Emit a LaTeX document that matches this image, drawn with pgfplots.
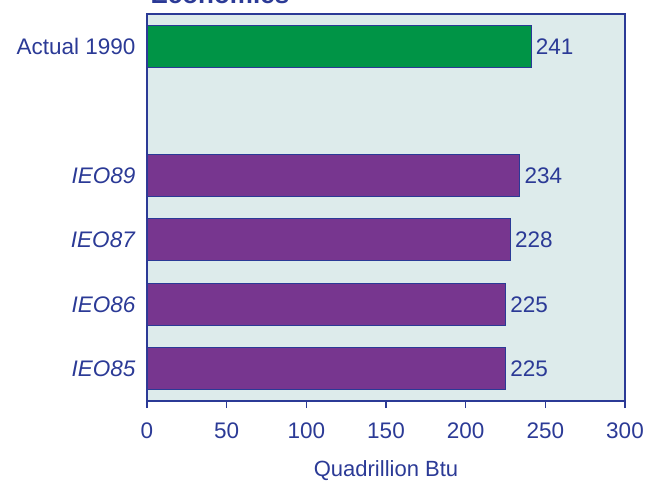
\documentclass[border=0pt]{standalone}
\usepackage{pgfplots}
\pgfplotsset{compat=1.18}
\usepackage{fontspec}
\setmainfont{Liberation Sans}

\definecolor{txtblue}{HTML}{2B3A96}
\definecolor{bggray}{HTML}{DDEBEB}
\definecolor{barGreen}{HTML}{009446}
\definecolor{barPurple}{HTML}{77368F}

\begin{document}
\begin{tikzpicture}
\begin{axis}[
    scale only axis,
    width=478pt, height=387pt,
    xmin=0, xmax=300, ymin=-0.5, ymax=5.5,
    axis background/.style={fill=bggray},
    axis line style={txtblue, line width=1.2pt},
    xbar, bar width=42pt, bar shift=0pt,
    xtick={0,50,...,300},
    xtick pos=bottom, tick align=outside,
    major tick length=7pt,
    tick style={txtblue, line width=1.2pt},
    ytick={0,1,2,3,5},
    yticklabels={\textit{IEO85},\textit{IEO86},\textit{IEO87},\textit{IEO89},Actual 1990},
    ytick style={draw=none},
    /pgf/number format/assume math mode=true,
    ticklabel style={font=\fontsize{22.5}{26}\selectfont, text=txtblue},
    xticklabel style={anchor=base, yshift=-30pt},
    yticklabel style={xshift=-1pt},
    xlabel={Quadrillion Btu},
    xlabel style={at={(axis description cs:0.5,0)}, anchor=base, yshift=-75pt,
        font=\fontsize{22}{26}\selectfont, text=txtblue},
    nodes near coords,
    point meta=x,
    nodes near coords style={anchor=west, xshift=1pt, font=\fontsize{22.5}{26}\selectfont, text=txtblue},
]
\addplot[fill=barGreen, draw=txtblue, line width=0.9pt] coordinates {(241,5)};
\addplot[fill=barPurple, draw=txtblue, line width=0.9pt] coordinates {(234,3) (228,2) (225,1) (225,0)};
\end{axis}
\node[anchor=base west, font=\bfseries\fontsize{26}{30}\selectfont, text=txtblue] at (0pt,397.5pt) {Economies};
\pgfresetboundingbox
\useasboundingbox (-147pt,-79pt) rectangle (500pt,401pt);
\end{tikzpicture}
\end{document}
